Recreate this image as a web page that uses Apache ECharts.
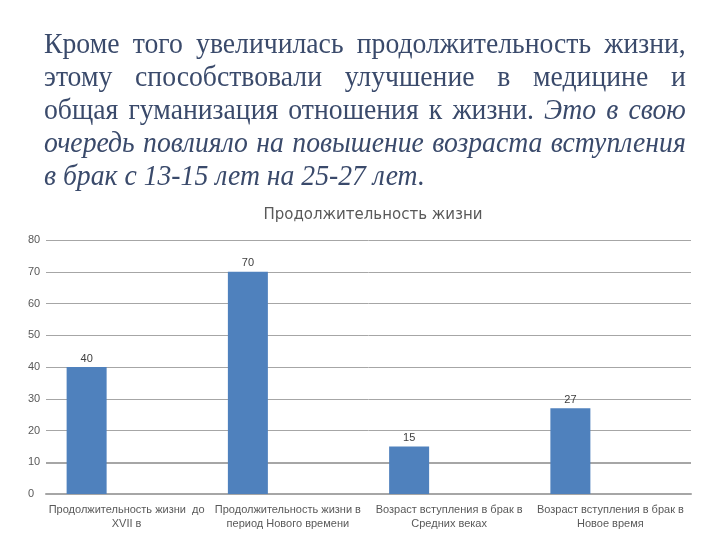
<!DOCTYPE html>
<html><head><meta charset="utf-8">
<script src="https://cdn.jsdelivr.net/npm/echarts@6/dist/echarts.min.js"></script>
<style>
html,body{margin:0;padding:0;background:#fff;}
#wrap{position:relative;width:720px;height:540px;overflow:hidden;}
#chart{position:absolute;left:0;top:0;width:720px;height:540px;}
#para{position:absolute;left:44px;top:27px;width:672px;transform:scaleX(0.955);transform-origin:0 0;font-family:"Liberation Serif","Times New Roman",serif;font-size:29px;color:#3a4a6b;}
#para .ln{height:33px;line-height:33px;text-align:justify;text-align-last:justify;white-space:nowrap;}
#para .ln.last{text-align-last:left;}
#para i{font-style:italic;}
</style></head>
<body>
<div id="wrap">
<div id="chart"></div>
<div id="para">
<div class="ln">Кроме того увеличилась продолжительность жизни,</div>
<div class="ln">этому способствовали улучшение в медицине и</div>
<div class="ln">общая гуманизация отношения к жизни. <i>Это в свою</i></div>
<div class="ln"><i>очередь повлияло на повышение возраста вступления</i></div>
<div class="ln last"><i>в брак с 13-15 лет на 25-27 лет.</i></div>
</div>
</div>
<script>
var chartTitle = "Продолжительность жизни";
var categories = [
  "Продолжительность жизни  до\nXVII в",
  "Продолжительность жизни в\nпериод Нового времени",
  "Возраст вступления в брак в\nСредних веках",
  "Возраст вступления в брак в\nНовое время"
];
var values = [40, 70, 15, 27];
var emptySeries2 = [null, null, null, null];
var emptySeries3 = [null, null, null, null];
var yTicks = {min: 0, max: 80, interval: 10};
var emphasisGridValue = 10;

var chart = echarts.init(document.getElementById('chart'), null, {renderer: 'canvas'});
var labelFont = '"Liberation Sans", Arial, sans-serif';
chart.setOption({
  animation: false,
  backgroundColor: '#ffffff',
  title: {
    text: chartTitle, left: 368, top: 203, textAlign: 'center',
    textStyle: {fontFamily: '"DejaVu Sans", sans-serif', fontSize: 15, fontWeight: 'normal', color: '#595959'}
  },
  grid: {left: 46, right: 29, top: 240, bottom: 46, containLabel: false},
  xAxis: {
    type: 'category', data: categories,
    axisLine: {show: true, lineStyle: {color: '#a6a6a6', width: 2}},
    axisTick: {show: false},
    axisLabel: {interval: 0, margin: 9, fontFamily: labelFont, fontSize: 11, color: '#595959', lineHeight: 14}
  },
  yAxis: {
    type: 'value', min: yTicks.min, max: yTicks.max, interval: yTicks.interval,
    axisLine: {show: false}, axisTick: {show: false},
    axisLabel: {align: 'left', margin: 18, fontFamily: labelFont, fontSize: 11, color: '#595959'},
    splitLine: {lineStyle: {color: '#a6a6a6', width: 1}}
  },
  series: [
    {
      type: 'bar', data: values, barWidth: 40, barGap: '0%', z: 3,
      itemStyle: {color: '#4f81bd'},
      label: {show: true, position: 'top', distance: 3, fontFamily: labelFont, fontSize: 11, color: '#404040'}
    },
    {type: 'bar', data: emptySeries2, barWidth: 40, barGap: '0%', z: 1,
      markLine: {silent: true, symbol: 'none', label: {show: false}, z: 1,
        lineStyle: {color: '#a6a6a6', width: 2, type: 'solid'}, data: [{yAxis: emphasisGridValue}]}},
    {type: 'bar', data: emptySeries3, barWidth: 40, barGap: '0%', z: 1}
  ]
});
</script>
</body></html>
